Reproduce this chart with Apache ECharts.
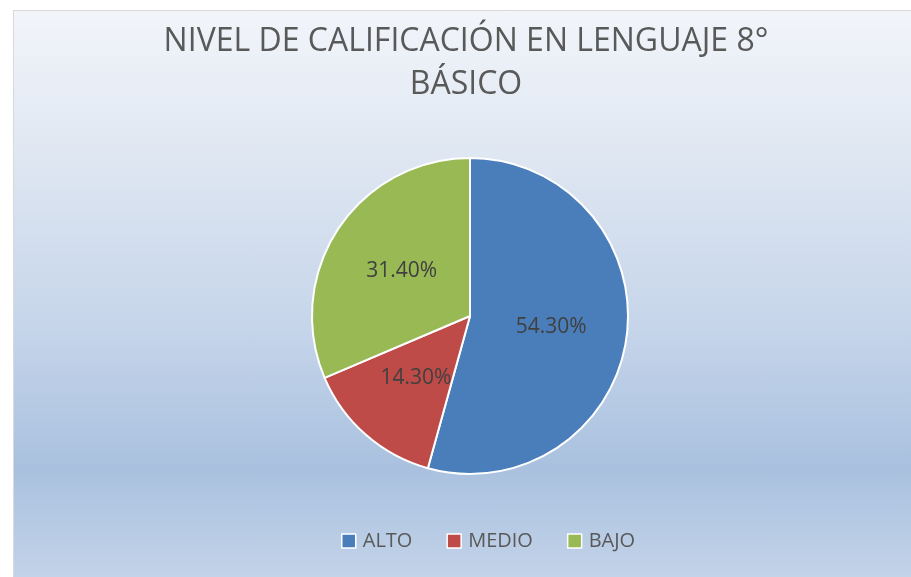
<!DOCTYPE html>
<html><head><meta charset="utf-8">
<script src="https://cdn.jsdelivr.net/npm/echarts@6/dist/echarts.min.js"></script>
<style>
html,body{margin:0;padding:0;background:#fff;}
#wrap{position:absolute;left:13px;top:10px;width:904px;height:572px;border:1px solid #d9d9d9;
background:linear-gradient(to bottom,#f2f5fa 0%,#dfe7f2 25%,#c6d5ea 55%,#a9c1df 80%,#c4d4e9 100%);}
#chart{width:100%;height:100%;}
</style></head>
<body>
<div id="wrap"><div id="chart"></div></div>
<script>
const categories = ['ALTO','MEDIO','BAJO'];
const values = [54.3, 14.3, 31.4];
const colors = ['#4a7ebb','#be4b48','#98b954'];
const titleText = 'NIVEL DE CALIFICACIÓN EN LENGUAJE 8°\nBÁSICO';

const chart = echarts.init(document.getElementById('chart'));
chart.setOption({
  backgroundColor: 'transparent',
  title: {
    text: titleText,
    left: 'center',
    top: 4,
    textStyle: {fontFamily: 'Open Sans', fontSize: 32, fontWeight: 'normal', color: '#595959', lineHeight: 43}
  },
  legend: {
    bottom: 27,
    left: 322,
    itemWidth: 14, itemHeight: 14, itemGap: 34,
    icon: 'rect',
    itemStyle: {borderColor: '#fff', borderWidth: 1.5},
    textStyle: {fontFamily: 'Open Sans', fontSize: 20, color: '#595959', padding: [0,0,0,2]},
    data: categories
  },
  series: [{
    type: 'pie',
    center: [456, 305],
    radius: 158,
    startAngle: 90,
    clockwise: true,
    label: {
      show: true, position: 'inside',
      fontFamily: 'Open Sans', fontSize: 21, color: '#404040',
      formatter: p => p.value.toFixed(2) + '%'
    },
    labelLine: {show: false},
    itemStyle: {borderColor: '#fff', borderWidth: 2},
    emphasis: {disabled: true},
    data: categories.map((c,i) => ({name: c, value: values[i], itemStyle: {color: colors[i]}}))
  }]
});
</script>
</body></html>
